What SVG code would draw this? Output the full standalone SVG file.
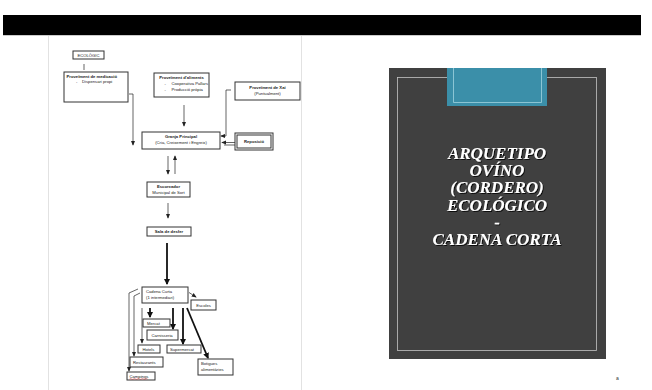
<svg xmlns="http://www.w3.org/2000/svg" width="652" height="390" viewBox="0 0 652 390">
<style>
.box{fill:#fff;stroke:#333;stroke-width:1}
.t{font-family:"Liberation Sans",Arial,sans-serif;font-size:4.2px;fill:#1a1a1a}
.b{font-weight:bold}
.c{text-anchor:middle}
.ln{fill:none;stroke:#222;stroke-width:0.7}
.th{fill:none;stroke:#111;stroke-width:1.8}
.title{font-family:"Liberation Serif","Times New Roman",serif;font-weight:bold;font-style:italic;font-size:17px;fill:#fff;text-anchor:middle}
</style>
<defs>
<marker id="a" viewBox="0 0 6 6" refX="5" refY="3" markerWidth="5" markerHeight="5" orient="auto" markerUnits="userSpaceOnUse"><path d="M0,0.5 L6,3 L0,5.5 Z" fill="#222"/></marker>
<marker id="ak" viewBox="0 0 6 6" refX="5" refY="3" markerWidth="6" markerHeight="6" orient="auto" markerUnits="userSpaceOnUse"><path d="M0,0 L6,3 L0,6 Z" fill="#111"/></marker>
<filter id="sh" x="-10%" y="-10%" width="120%" height="130%"><feDropShadow dx="1" dy="1" stdDeviation="0.6" flood-color="#000" flood-opacity="0.8"/></filter>
</defs>
<rect width="652" height="390" fill="#fff"/>
<rect x="3" y="15" width="638" height="20" fill="#000"/>
<line x1="3" y1="35.5" x2="641" y2="35.5" stroke="#ccc" stroke-width="1"/>
<line x1="48.5" y1="36" x2="48.5" y2="390" stroke="#e2e2e2" stroke-width="1"/>
<line x1="301.5" y1="36" x2="301.5" y2="390" stroke="#e2e2e2" stroke-width="1"/>

<g id="connectors">
<path class="ln" d="M84,64 V70"/>
<path class="ln" d="M129,94 H133 V145" marker-end="url(#a)"/>
<path class="ln" d="M184,105 V126" marker-end="url(#a)"/>
<path class="ln" d="M231,90 H226 V136 H221" marker-end="url(#a)"/>
<path class="ln" d="M235,142.5 H222" marker-end="url(#a)"/>
<path class="ln" d="M235,145 H224"/>
<path class="ln" d="M168,156 V174" marker-end="url(#a)"/>
<path class="ln" d="M175,174 V156" marker-end="url(#a)"/>
<path class="ln" d="M168,203 V218" marker-end="url(#a)"/>
<path class="th" d="M167,243 V284" marker-end="url(#ak)"/>
<path class="ln" d="M189,292.5 L196,297" marker-end="url(#a)"/>
<path class="th" d="M150,308 V317" marker-end="url(#ak)"/>
<path class="th" d="M173,308 V329" marker-end="url(#ak)"/>
<path class="th" d="M183,308 V344" marker-end="url(#ak)"/>
<path class="th" d="M187,308 L208,358" marker-end="url(#ak)"/>
<path class="ln" d="M142,308 V343" marker-end="url(#a)"/>
<path class="ln" d="M140,293 L134,296 V356" marker-end="url(#a)"/>
<path class="ln" d="M138,289 L129,293 V371" marker-end="url(#a)"/>
</g>

<g id="ecologic"><rect class="box" x="73" y="51" width="31" height="8"/><text class="t c" x="88.5" y="56.5" font-size="3.6">ECOLÒGIC</text></g>
<g id="medicacio"><rect class="box" x="64" y="72" width="64" height="30"/><text class="t b" x="66.5" y="77.5">Proveïment de medicació</text><text class="t" x="76" y="83">-</text><text class="t" x="82" y="83">Dispensari propi</text></g>
<g id="aliments"><rect class="box" x="154" y="73" width="55" height="24"/><text class="t b c" x="181.5" y="79">Proveïment d'aliments</text><text class="t" x="164.5" y="85">-</text><text class="t" x="171.5" y="85">Cooperativa Pallars</text><text class="t" x="164.5" y="90.5">-</text><text class="t" x="171.5" y="90.5">Producció pròpia</text></g>
<g id="xai"><rect class="box" x="235" y="82" width="65" height="18"/><text class="t b c" x="267.5" y="88.5">Proveïment de Xai</text><text class="t c" x="267.5" y="94.5">(Puntualment)</text></g>
<g id="granja"><rect class="box" x="142" y="132" width="78" height="17"/><text class="t b c" x="181" y="137.5">Granja Principal</text><text class="t c" x="181" y="144">(Cria, Creixement i Engreix)</text></g>
<g id="reposicio"><rect class="box" x="235" y="133" width="38" height="17"/><rect class="box" x="237" y="135" width="34" height="13"/><text class="t b c" x="254" y="143">Reposició</text></g>
<g id="escorxador"><rect class="box" x="147" y="182" width="43" height="15"/><text class="t b c" x="168.5" y="188">Escorxador</text><text class="t c" x="168.5" y="194">Municipal de Sort</text></g>
<g id="sala"><rect class="box" x="147" y="227" width="44" height="9"/><text class="t b c" x="169" y="233">Sala de desfer</text></g>
<g id="cadena"><rect class="box" x="142" y="287" width="46" height="16"/><text class="t" x="146" y="293">Cadena Curta</text><text class="t" x="146" y="299">(1 intermediari)</text></g>
<g id="escoles"><rect class="box" x="191" y="300" width="25" height="10"/><text class="t c" x="203.5" y="306.5">Escoles</text></g>
<g id="mercat"><rect class="box" x="143" y="319" width="27" height="8"/><text class="t" x="147" y="325">Mercat</text></g>
<g id="carnisseria"><rect class="box" x="147" y="330" width="31" height="10"/><text class="t" x="151.5" y="337">Carnisseria</text></g>
<g id="supermercat"><rect class="box" x="167" y="345" width="34" height="8"/><text class="t" x="170" y="351">Supermercat</text></g>
<g id="hotels"><rect class="box" x="138" y="345" width="22" height="8"/><text class="t" x="142.5" y="351">Hotels</text></g>
<g id="restaurants"><rect class="box" x="130" y="357" width="33" height="10"/><text class="t" x="133" y="364">Restaurants</text></g>
<g id="campings"><rect class="box" x="127" y="372" width="28" height="8" stroke="#999"/><text class="t" x="129.5" y="378">Campings</text><path d="M129.5,379 q1,-0.8 2,0 t2,0 t2,0 t2,0 t2,0 t2,0 t2,0 t2,0 t2,0" fill="none" stroke="#d22" stroke-width="0.5"/></g>
<g id="botigues"><rect class="box" x="198" y="359" width="35" height="16"/><text class="t" x="201" y="365">Botigues</text><text class="t" x="201" y="371">alimentàries</text></g>

<g id="slide">
<rect x="389" y="68" width="217" height="291" fill="#404040"/>
<rect x="397.5" y="77.5" width="199" height="273" fill="none" stroke="#c4c4c4" stroke-width="0.8"/>
<rect x="447" y="68" width="100" height="38" fill="#3b8fa9"/>
<path d="M453.5,68 V102.5 H541.5 V68" fill="none" stroke="#9fd3e0" stroke-width="0.8"/>
<g filter="url(#sh)">
<text class="title" x="497" y="159">ARQUETIPO</text>
<text class="title" x="497" y="176.2">OVÍNO</text>
<text class="title" x="497" y="193.4">(CORDERO)</text>
<text class="title" x="497" y="210.6">ECOLÓGICO</text>
<text class="title" x="497" y="227.8">-</text>
<text class="title" x="497" y="245">CADENA CORTA</text>
</g>
</g>
<text x="616" y="380" font-family="Liberation Sans,Arial,sans-serif" font-size="5" fill="#333">a</text>
</svg>
